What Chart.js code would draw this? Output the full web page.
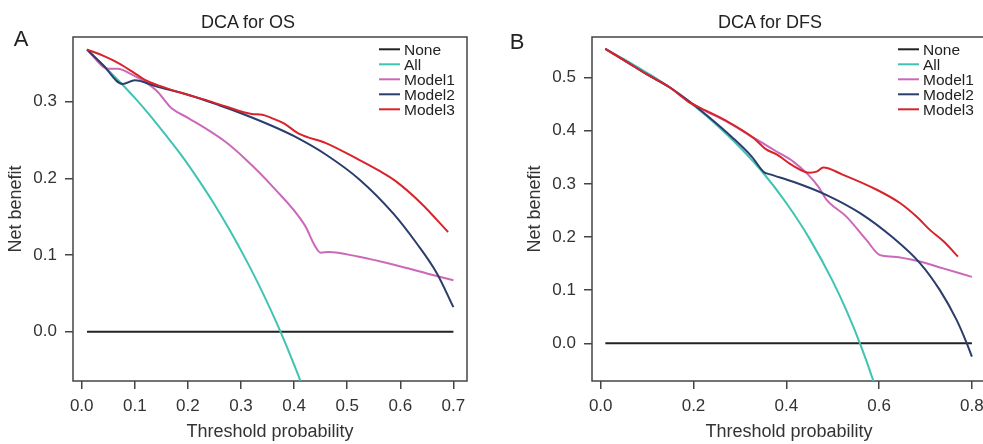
<!DOCTYPE html>
<html>
<head>
<meta charset="utf-8">
<script src="https://cdn.jsdelivr.net/npm/chart.js@4.4.1/dist/chart.umd.min.js"></script>
<style>
    body { margin: 0; width: 983px; height: 444px; overflow: hidden; background: #fff; position: relative; font-family: "Liberation Sans", Arial, sans-serif; }
    canvas { position: absolute; top: 0; }
    #osChart { left: 0; }
    #dfsChart { left: 519px; }
    .lbl { position: absolute; transform: translate(-50%, -50%); white-space: nowrap; line-height: 1; color: #222; }
    .ttl { font-size: 18px; top: 22px; }
    .panel { font-size: 22px; }
</style>
</head>
<body>
<canvas id="osChart" width="490" height="444"></canvas>
<canvas id="dfsChart" width="490" height="444"></canvas>
<div class="lbl ttl" style="left:248px">DCA for OS</div>
<div class="lbl ttl" style="left:770px">DCA for DFS</div>
<div class="lbl panel" style="left:21px; top:39px">A</div>
<div class="lbl panel" style="left:517px; top:42px">B</div>
<script>
// Series names
const seriesNames = ['None', 'All', 'Model1', 'Model2', 'Model3'];

// Panel A - DCA for OS  [threshold, net benefit]
const osNone = [[0.01, 0], [0.70, 0]];
const osAll = [[0.01, 0.368], [0.04, 0.348], [0.07, 0.327], [0.10, 0.305], [0.13, 0.281], [0.16, 0.255],
    [0.19, 0.228], [0.22, 0.198], [0.25, 0.166], [0.28, 0.131], [0.31, 0.093], [0.34, 0.052],
    [0.37, 0.007], [0.40, -0.043], [0.43, -0.098], [0.46, -0.159]];
const osModel1 = [[0.01, 0.368], [0.05, 0.343], [0.068, 0.343], [0.09, 0.337], [0.14, 0.315], [0.17, 0.291],
    [0.20, 0.279], [0.27, 0.248], [0.31, 0.224], [0.36, 0.189], [0.42, 0.139], [0.44, 0.111],
    [0.45, 0.103], [0.465, 0.104], [0.52, 0.098], [0.59, 0.087], [0.65, 0.076], [0.70, 0.067]];
const osModel2 = [[0.01, 0.368], [0.04, 0.348], [0.077, 0.323], [0.10, 0.328], [0.14, 0.320], [0.20, 0.309],
    [0.26, 0.295], [0.30, 0.285], [0.36, 0.268], [0.40, 0.255], [0.461, 0.2305], [0.524, 0.198],
    [0.587, 0.154], [0.631, 0.115], [0.669, 0.076], [0.70, 0.032]];
const osModel3 = [[0.01, 0.368], [0.04, 0.360], [0.07, 0.350], [0.10, 0.337], [0.12, 0.328], [0.15, 0.320],
    [0.19, 0.311], [0.23, 0.303], [0.27, 0.294], [0.32, 0.284], [0.34, 0.283], [0.36, 0.278],
    [0.38, 0.272], [0.41, 0.258], [0.46, 0.246], [0.52, 0.225], [0.56, 0.210], [0.59, 0.197],
    [0.64, 0.167], [0.69, 0.130]];
const osXTicks = [0, 0.1, 0.2, 0.3, 0.4, 0.5, 0.6, 0.7];
const osYTicks = [0, 0.1, 0.2, 0.3];

// Panel B - DCA for DFS
const dfsNone = [[0.01, 0], [0.80, 0]];
const dfsAll = [[0.01, 0.554], [0.05, 0.535], [0.10, 0.509], [0.15, 0.481], [0.20, 0.448], [0.25, 0.411],
    [0.30, 0.369], [0.35, 0.321], [0.40, 0.264], [0.45, 0.197], [0.50, 0.117], [0.53, 0.061],
    [0.56, -0.003], [0.59, -0.077], [0.62, -0.162]];
const dfsModel1 = [[0.01, 0.554], [0.05, 0.533], [0.10, 0.506], [0.15, 0.481], [0.19, 0.455], [0.22, 0.440],
    [0.27, 0.418], [0.32, 0.392], [0.345, 0.379], [0.379, 0.361], [0.415, 0.342], [0.4475, 0.317],
    [0.469, 0.295], [0.487, 0.270], [0.53, 0.238], [0.573, 0.194], [0.602, 0.166], [0.631, 0.163],
    [0.688, 0.154], [0.738, 0.141], [0.80, 0.125]];
const dfsModel2 = [[0.01, 0.554], [0.05, 0.533], [0.10, 0.506], [0.15, 0.481], [0.19, 0.456], [0.233, 0.426],
    [0.283, 0.388], [0.326, 0.351], [0.352, 0.322], [0.365, 0.318], [0.415, 0.304], [0.487, 0.279],
    [0.559, 0.245], [0.631, 0.198], [0.688, 0.151], [0.731, 0.100], [0.767, 0.044], [0.789, 0.0],
    [0.80, -0.025]];
const dfsModel3 = [[0.01, 0.554], [0.05, 0.533], [0.10, 0.506], [0.15, 0.481], [0.175, 0.464], [0.19, 0.454],
    [0.21, 0.445], [0.27, 0.419], [0.33, 0.386], [0.355, 0.366], [0.38, 0.355], [0.415, 0.334],
    [0.45, 0.321], [0.465, 0.323], [0.48, 0.331], [0.52, 0.318], [0.595, 0.289], [0.645, 0.264],
    [0.68, 0.239], [0.71, 0.213], [0.74, 0.191], [0.77, 0.163]];
const dfsXTicks = [0, 0.2, 0.4, 0.6, 0.8];
const dfsYTicks = [0, 0.1, 0.2, 0.3, 0.4, 0.5];

const colors = ['#222222', '#3fc3b3', '#cc68b9', '#2a3d6c', '#d8232a'];
const axisColor = '#444';
const textColor = '#333';
const fontFamily = '"Liberation Sans", Arial, sans-serif';

// box round the plot area, like R's box()
const frame = {
    id: 'frame',
    beforeDatasetsDraw(chart) {
        const { ctx, chartArea: a } = chart;
        ctx.save();
        ctx.strokeStyle = axisColor;
        ctx.lineWidth = 1.5;
        ctx.strokeRect(a.left, a.top, a.right - a.left, a.bottom - a.top);
        ctx.restore();
    }
};

// legend in the top right corner of the plot area
const cornerLegend = {
    id: 'cornerLegend',
    afterDatasetsDraw(chart) {
        const { ctx, chartArea: a } = chart;
        ctx.save();
        ctx.font = '15.5px ' + fontFamily;
        ctx.textBaseline = 'middle';
        ctx.textAlign = 'left';
        chart.data.datasets.forEach((ds, i) => {
            const y = a.top + 12.3 + i * 15;
            ctx.strokeStyle = ds.borderColor;
            ctx.lineWidth = 2;
            ctx.beginPath();
            ctx.moveTo(a.right - 88, y);
            ctx.lineTo(a.right - 67, y);
            ctx.stroke();
            ctx.fillStyle = '#222';
            ctx.fillText(ds.label, a.right - 63, y + 1);
        });
        ctx.restore();
    }
};

function makeDatasets(seriesList) {
    return seriesList.map((pts, i) => ({
        label: seriesNames[i],
        data: pts.map(p => ({ x: p[0], y: p[1] })),
        borderColor: colors[i],
        backgroundColor: colors[i],
        borderWidth: 2,
        pointRadius: 0,
        cubicInterpolationMode: 'monotone',
        order: seriesList.length - i
    }));
}

function makeChart(id, seriesList, xTicks, yTicks, xRange, yRange) {
    return new Chart(document.getElementById(id), {
        type: 'line',
        data: { datasets: makeDatasets(seriesList) },
        options: {
            responsive: false,
            animation: false,
            devicePixelRatio: 1,
            events: [],
            layout: { padding: { top: 37, right: 23, left: 0, bottom: 0 } },
            plugins: {
                legend: { display: false },
                tooltip: { enabled: false }
            },
            scales: {
                x: {
                    type: 'linear',
                    min: xRange[0],
                    max: xRange[1],
                    afterBuildTicks: s => { s.ticks = xTicks.map(v => ({ value: v })); },
                    afterFit: s => { s.height = 63; },
                    border: { display: false },
                    grid: { drawOnChartArea: false, drawTicks: true, tickLength: 8, color: axisColor, lineWidth: 1.5 },
                    ticks: {
                        padding: 7,
                        color: textColor,
                        font: { family: fontFamily, size: 17 },
                        maxRotation: 0,
                        callback: v => v.toFixed(1)
                    },
                    title: {
                        display: true,
                        text: 'Threshold probability',
                        color: textColor,
                        font: { family: fontFamily, size: 18 },
                        padding: { top: 0, bottom: 1 }
                    }
                },
                y: {
                    min: yRange[0],
                    max: yRange[1],
                    afterBuildTicks: s => { s.ticks = yTicks.map(v => ({ value: v })); },
                    afterFit: s => { s.width = 73; },
                    border: { display: false },
                    grid: { drawOnChartArea: false, drawTicks: true, tickLength: 8, color: axisColor, lineWidth: 1.5 },
                    ticks: {
                        padding: 8,
                        color: textColor,
                        font: { family: fontFamily, size: 17 },
                        callback: v => v.toFixed(1)
                    },
                    title: {
                        display: true,
                        text: 'Net benefit',
                        color: textColor,
                        font: { family: fontFamily, size: 18 },
                        padding: { top: 5, bottom: 0 }
                    }
                }
            }
        },
        plugins: [frame, cornerLegend]
    });
}

makeChart('osChart', [osNone, osAll, osModel1, osModel2, osModel3], osXTicks, osYTicks,
    [-0.0164, 0.7256], [-0.0643, 0.3844]);
makeChart('dfsChart', [dfsNone, dfsAll, dfsModel1, dfsModel2, dfsModel3], dfsXTicks, dfsYTicks,
    [-0.01875, 0.8304], [-0.0710, 0.5765]);
</script>
</body>
</html>
